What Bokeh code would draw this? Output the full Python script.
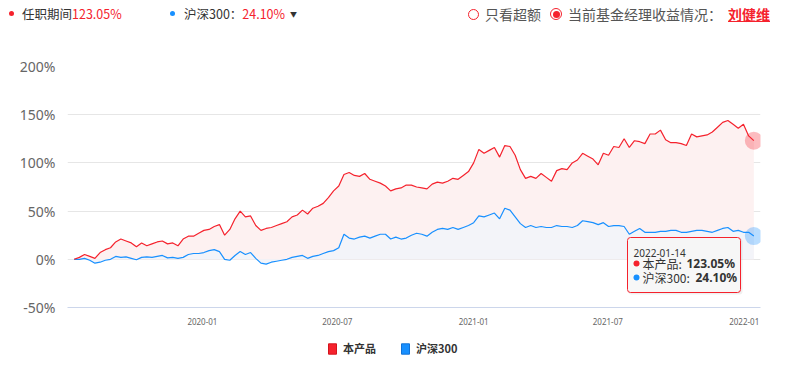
import pandas as pd
from bokeh.plotting import figure
from bokeh.layouts import column
from bokeh.models import (Range1d, FixedTicker, DatetimeTickFormatter, Label, Div,
                          BoxAnnotation, Legend, LegendItem, ColumnDataSource)
from bokeh.embed import file_html
from bokeh.resources import INLINE

# ---------------- data ----------------
start_date = "2019-07-12"
end_date = "2022-01-14"
dates = pd.date_range(start_date, end_date, freq="7D")   # weekly samples

red = [0, 2, 5, 3, 1, 7, 10, 12, 18, 21,
       19, 17, 13, 17, 14, 16, 18, 19, 16, 17,
       14, 21, 24, 24, 27, 30, 31, 34, 36, 25,
       31, 42, 50, 44, 45, 35, 30, 32, 33, 35,
       37, 39, 44, 46, 51, 47, 53, 55, 58, 64,
       71, 76, 88, 90, 87, 86, 89, 83, 81, 79,
       76, 71, 73, 74, 77, 77, 75, 74, 73, 78,
       80, 79, 81, 84, 83, 87, 91, 100, 114, 110,
       113, 116, 106, 118, 117, 108, 93, 84, 86, 84,
       89, 85, 81, 92, 94, 93, 100, 103, 110, 107,
       104, 98, 110, 108, 117, 116, 125, 116, 123, 122,
       120, 130, 130, 134, 124, 121, 121, 120, 118, 130,
       127, 128, 129, 132, 137, 142, 144, 140, 136, 140,
       128, 123.05]

blue = [0, 0, 1, -1, -4, -3, -1, 0, 3, 2,
        2.5, 1, -0.5, 2, 2.5, 2, 3, 4, 1.5, 2,
        1, 2, 5, 6, 6, 7, 9, 10, 8, 0,
        -1, 4, 8, 5, 7, 1, -4, -5, -3, -2,
        -1, 0, 2, 3, 4, 1, 3, 4, 6, 8,
        9, 12, 26, 22, 21, 23, 24, 22, 24, 26,
        26, 21, 23, 21, 22, 25, 27, 26, 24, 28,
        31, 32, 31, 33, 31, 33, 35, 38, 45, 44,
        46, 48, 42, 53, 51, 44, 37, 33, 35, 33,
        34, 33, 33, 35, 34, 34, 33, 35, 40, 39,
        38, 36, 38, 34, 35, 35, 34, 26, 29, 32,
        28, 28, 28, 29, 29, 30, 30, 28, 28, 29,
        30, 30, 29, 28, 30, 32, 33, 29, 30, 28,
        28, 24.10]

series_names = ["本产品", "沪深300"]
manager_name = "刘健维"
x_tick_labels = ["2020-01", "2020-07", "2021-01", "2021-07", "2022-01"]
y_ticks = [-50, 0, 50, 100, 150, 200]
y_tick_labels = ["-50%", "0%", "50%", "100%", "150%", "200%"]

# ---------------- style ----------------
RED = "#f5222d"
RED_DARK = "#d4141d"
BLUE = "#1890ff"
BLUE_DARK = "#1272d6"
CJK = "Noto Sans CJK SC"
W = 800

# ---------------- header (HTML) ----------------
def span(left, top, inner, extra=""):
    return (f'<span style="position:absolute;left:{left}px;top:{top}px;'
            f'white-space:nowrap;{extra}">{inner}</span>')


def circ(cx, cy, d, fill, border):
    return span(cx - d / 2, cy - d / 2, "",
                f"box-sizing:border-box;width:{d}px;height:{d}px;border-radius:50%;"
                f"background:{fill};border:{border};")


hdr_html = (
    f'<div style="position:relative;width:{W}px;height:30px;font-family:\'{CJK}\';'
    f'color:#333;">'
    + circ(11, 13.5, 5, RED, "none")
    + span(22, 5, f'任职期间<span style="color:{RED}">{red[-1]:.2f}%</span>',
           "font-size:12.5px;line-height:17px;")
    + circ(172, 13.5, 5, BLUE, "none")
    + span(184, 5, f'沪深300：<span style="color:{RED}">{blue[-1]:.2f}%</span>'
                   f'<span style="font-size:7px;margin-left:5px;vertical-align:2px;">▼</span>',
           "font-size:12.5px;line-height:17px;")
    + circ(473.5, 14, 11, "white", f"1px solid {RED}")
    + span(485, 5, "只看超额", "font-size:14px;line-height:18px;color:#555;")
    + circ(556, 14, 12, "white", f"1px solid {RED}")
    + circ(556, 14, 7, RED, "none")
    + span(568, 5, "当前基金经理收益情况：", "font-size:14px;line-height:18px;color:#555;")
    + span(728, 5, manager_name,
           f"font-size:14px;line-height:18px;color:{RED};font-weight:bold;"
           f"text-decoration:underline;")
    + '</div>'
)
hdr = Div(text=hdr_html, width=W, height=30, margin=0)

# ---------------- main chart ----------------
src = ColumnDataSource(dict(date=dates, red=red, blue=blue))

p = figure(width=W, height=306, x_axis_type="datetime",
           x_range=Range1d(pd.Timestamp("2019-07-03"), pd.Timestamp("2022-01-23")),
           y_range=Range1d(-50, 200),
           output_backend="svg", toolbar_location=None,
           min_border_left=67, min_border_right=40,
           min_border_top=36, min_border_bottom=29)
p.outline_line_color = None
p.background_fill_color = "white"

p.varea(x="date", y1=0, y2="red", source=src, fill_color="#fdf1f1")
p.varea(x="date", y1=0, y2="blue", source=src, fill_color="#f3f4f9")
p.line(x="date", y="blue", source=src, line_color=BLUE, line_width=1.2)
p.line(x="date", y="red", source=src, line_color=RED, line_width=1.2)

last = dict(date=[dates[-1], dates[-1]], val=[red[-1], blue[-1]], col=[RED, BLUE])
p.scatter(x="date", y="val", color="col", source=ColumnDataSource(last),
          size=18, fill_alpha=0.3, line_color=None)

xa = p.xaxis[0]
xa.ticker = FixedTicker(ticks=[pd.Timestamp(t + "-01").value / 1e6 for t in x_tick_labels])
xa.formatter = DatetimeTickFormatter(days="%Y-%m", months="%Y-%m", years="%Y-%m")
xa.axis_line_color = "#ccd6eb"
xa.major_tick_line_color = None
xa.minor_tick_line_color = None
xa.major_tick_out = 0
xa.major_label_standoff = 10
xa.major_label_text_font = "Noto Sans"
xa.major_label_text_font_size = "8px"
xa.major_label_text_color = "#666666"

ya = p.yaxis[0]
ya.ticker = FixedTicker(ticks=y_ticks)
ya.major_label_overrides = {t: l for t, l in zip(y_ticks, y_tick_labels)}
ya.axis_line_color = None
ya.major_tick_line_color = None
ya.minor_tick_line_color = None
ya.major_tick_out = 0
ya.major_label_standoff = 12
ya.major_label_text_font = "Noto Sans"
ya.major_label_text_font_size = "14px"
ya.major_label_text_color = "#666666"

p.xgrid.grid_line_color = None
p.ygrid.grid_line_color = "#e6e6e6"
p.ygrid.ticker = FixedTicker(ticks=y_ticks)


def lab(x, y, text, size="12px", style="normal", font=CJK):
    p.add_layout(Label(x=x, y=y, x_units="screen", y_units="screen", text=text,
                       text_font=font, text_font_size=size, text_color="#333333",
                       text_font_style=style, text_baseline="middle", text_align="left"))


def box(l, r, t, b, fill=None, line=None, radius=0, fa=1.0):
    p.add_layout(BoxAnnotation(left=l, right=r, top=t, bottom=b,
                               left_units="screen", right_units="screen",
                               top_units="screen", bottom_units="screen",
                               fill_color=fill, fill_alpha=fa if fill else 0,
                               line_color=line, line_width=1, line_alpha=1 if line else 0,
                               border_radius=int(round(radius))))


def dot(cx, cy, r, fill):
    box(cx - r, cx + r, cy + r, cy - r, fill=fill, radius=r + 0.5)


# tooltip (screen coords relative to the frame's bottom-left)
box(561, 675, 69, 13, fill="#000000", fa=0.06, radius=3)
box(560, 673, 70, 15, fill="#f7f7f7", fa=0.95, line=RED, radius=3)
lab(566, 55, dates[-1].strftime("%Y-%m-%d"), size="10px", font="Noto Sans")
dot(569, 44, 3, RED)
lab(575, 44, series_names[0] + ":")
lab(619, 44, f"{red[-1]:.2f}%", style="bold", font="Noto Sans")
dot(569, 30, 3, BLUE)
lab(575, 30, series_names[1] + ":")
lab(628, 30, f"{blue[-1]:.2f}%", style="bold", font="Noto Sans")

# ---------------- legend ----------------
leg = figure(width=W, height=40, x_range=Range1d(0, 1), y_range=Range1d(0, 1),
             output_backend="svg", toolbar_location=None,
             x_axis_location=None, y_axis_location=None,
             min_border_left=67, min_border_right=40, min_border_top=0, min_border_bottom=0)
leg.outline_line_color = None
leg.xgrid.visible = False
leg.ygrid.visible = False
nan = float("nan")
dummy_r = leg.quad(left=[nan], right=[nan], top=[nan], bottom=[nan],
                   fill_color=RED, line_color=RED_DARK)
dummy_b = leg.quad(left=[nan], right=[nan], top=[nan], bottom=[nan],
                   fill_color=BLUE, line_color=BLUE_DARK)
legend = Legend(items=[LegendItem(label=series_names[0], renderers=[dummy_r]),
                       LegendItem(label=series_names[1], renderers=[dummy_b])],
                location=(260, 20), orientation="horizontal",
                border_line_color=None, background_fill_alpha=0,
                padding=0, margin=0, spacing=24,
                glyph_width=10, glyph_height=13, label_standoff=6,
                label_height=13,
                label_text_font=CJK, label_text_font_style="bold",
                label_text_font_size="11px", label_text_color="#333333")
leg.add_layout(legend)

layout = column(hdr, p, leg, spacing=0)
open("out.html", "w").write(file_html(layout, INLINE))
